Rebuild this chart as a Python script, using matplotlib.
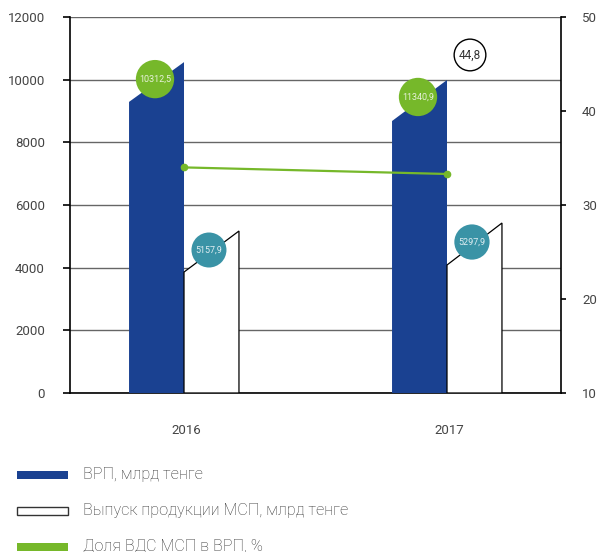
import matplotlib
matplotlib.use("Agg")
import matplotlib.pyplot as plt
from matplotlib.patches import Rectangle

plt.rcParams['font.family'] = ['Roboto', 'DejaVu Sans']

# data
years = ['2016', '2017']
vrp_top_left = [9290, 8680]        # slanted top of blue bars
vrp_top_right = [10560, 9990]
msp_top_left = [3860, 4085]        # slanted top of white bars
msp_top_right = [5170, 5425]
share = [34.0, 33.3]               # right axis, %
vrp_labels = ['10312,5', '11340,9']
msp_labels = ['5157,9', '5297,9']
extra_label = '44,8'

blue = '#1a4191'
green = '#76b82a'
teal = '#3a93a6'
txt = '#444444'

fig = plt.figure(figsize=(5.98, 5.52), dpi=100)
ax = fig.add_axes([70/598, 1 - 393/552, 491/598, 376/552])
ax2 = ax.twinx()

w = 0.209
for i in range(len(years)):
    ax.fill([i - w, i - w, i, i], [0, vrp_top_left[i], vrp_top_right[i], 0],
            color=blue, zorder=3, lw=0)
    ax.fill([i, i, i + w, i + w], [0, msp_top_left[i], msp_top_right[i], 0],
            facecolor='white', edgecolor='black', lw=0.9, zorder=3)

ax.set_xlim(-0.4335, 1.4335)
ax.set_ylim(0, 12000)
ax.set_yticks(range(0, 12001, 2000))
ax.set_xticks([0.01, 1.01])
ax.set_xticklabels(years)
ax.grid(axis='y', color='#666666', lw=1, zorder=0)
ax.tick_params(axis='x', length=0, pad=22, labelsize=9.5, labelcolor=txt)
ax.tick_params(axis='y', length=5, width=1.2, pad=13, labelsize=9.5, labelcolor=txt)
ax.spines['top'].set_visible(False)
ax.spines['right'].set_visible(False)
ax.spines['left'].set_linewidth(1.2)
ax.spines['bottom'].set_linewidth(1.2)

ax2.set_ylim(10, 50)
ax2.set_yticks([10, 20, 30, 40, 50])
ax2.tick_params(axis='y', length=3.6, width=1.2, pad=11.5, labelsize=9.5, labelcolor=txt)
for s in ['top', 'left', 'bottom']:
    ax2.spines[s].set_visible(False)
ax2.spines['right'].set_linewidth(1.2)
ax2.plot([0, 1], share, color=green, lw=1.6, marker='o', ms=4.5, zorder=5)
ax2.set_zorder(ax.get_zorder() + 1)
ax2.patch.set_visible(False)

# circle labels
for i in range(len(years)):
    ax.annotate(vrp_labels[i], (i, vrp_top_right[i]), xytext=(-29, -17),
                textcoords='offset pixels', ha='center', va='center',
                fontsize=6.5, color='#e8f2dc', zorder=6,
                bbox=dict(boxstyle='circle,pad=0.35', fc=green, ec='none'))
    ax.annotate(msp_labels[i], (i + w, msp_top_right[i]), xytext=(-30, -19),
                textcoords='offset pixels', ha='center', va='center',
                fontsize=6.5, color='#e0eef2', zorder=6,
                bbox=dict(boxstyle='circle,pad=0.45', fc=teal, ec='none'))
ax.annotate(extra_label, (1, vrp_top_right[1]), xytext=(23, 25),
            textcoords='offset pixels', ha='center', va='center',
            fontsize=8.5, color='#333333', zorder=6,
            bbox=dict(boxstyle='circle,pad=0.4', fc='white', ec='black', lw=1))

# legend drawn by hand
legend_items = [('ВРП, млрд тенге', dict(fc=blue, ec='none')),
                ('Выпуск продукции МСП, млрд тенге', dict(fc='white', ec='#333333', lw=1)),
                ('Доля ВДС МСП в ВРП, %', dict(fc=green, ec='none'))]
for k, (lab, sty) in enumerate(legend_items):
    yc = 475 + k * 36
    fig.patches.append(Rectangle((17/598, 1 - (yc + 4)/552), 51/598, 8/552,
                                 transform=fig.transFigure, **sty))
    fig.text(83/598, 1 - (yc - 1)/552, lab, fontsize=11.7, fontweight='light',
             color='#333333', va='center', ha='left')

fig.savefig('out.png', dpi=100)
